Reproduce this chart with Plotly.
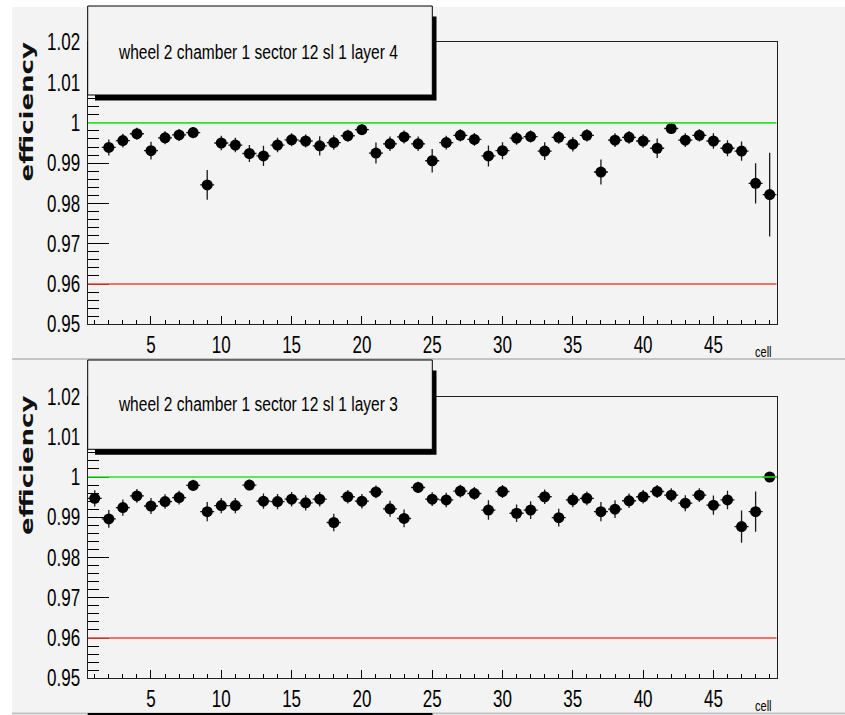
import plotly.graph_objects as go

# ---- data -------------------------------------------------------------
cells = list(range(1, 50))

# layer 4 (cell 1 has no entry in range)
eff_layer4 = [None,
              0.9939, 0.9956, 0.9973, 0.9931, 0.9963, 0.9970, 0.9976, 0.9846,
              0.9950, 0.9945, 0.9924, 0.9918, 0.9945, 0.9958, 0.9955, 0.9943,
              0.9951, 0.9968, 0.9983, 0.9925, 0.9948, 0.9965, 0.9948, 0.9906,
              0.9951, 0.9969, 0.9959, 0.9918, 0.9931, 0.9962, 0.9966, 0.9930,
              0.9964, 0.9947, 0.9969, 0.9878, 0.9957, 0.9964, 0.9955, 0.9937,
              0.9986, 0.9957, 0.9969, 0.9955, 0.9937, 0.9930, 0.9850, 0.9822]
err_layer4 = [None,
              0.0020, 0.0017, 0.0015, 0.0022, 0.0016, 0.0015, 0.0014, 0.0037,
              0.0018, 0.0018, 0.0021, 0.0025, 0.0018, 0.0016, 0.0016, 0.0024,
              0.0018, 0.0015, 0.0013, 0.0026, 0.0018, 0.0016, 0.0018, 0.0029,
              0.0017, 0.0015, 0.0016, 0.0026, 0.0021, 0.0016, 0.0015, 0.0022,
              0.0016, 0.0018, 0.0015, 0.0031, 0.0017, 0.0016, 0.0017, 0.0024,
              0.0013, 0.0017, 0.0015, 0.0019, 0.0020, 0.0024, 0.0050, 0.0104]

# layer 3
eff_layer3 = [0.9947, 0.9896, 0.9924, 0.9953, 0.9928, 0.9939, 0.9949, 0.9979,
              0.9914, 0.9929, 0.9929, 0.9980, 0.9940, 0.9939, 0.9945, 0.9936,
              0.9945, 0.9887, 0.9951, 0.9940, 0.9963, 0.9921, 0.9897, 0.9974,
              0.9945, 0.9943, 0.9965, 0.9959, 0.9918, 0.9964, 0.9910, 0.9918,
              0.9951, 0.9899, 0.9943, 0.9947, 0.9914, 0.9920, 0.9941, 0.9951,
              0.9964, 0.9955, 0.9935, 0.9955, 0.9930, 0.9943, 0.9877, 0.9914,
              1.0000]
err_layer3 = [0.0020, 0.0022, 0.0020, 0.0017, 0.0020, 0.0018, 0.0017, 0.0014,
              0.0024, 0.0019, 0.0019, 0.0013, 0.0019, 0.0019, 0.0018, 0.0019,
              0.0018, 0.0022, 0.0017, 0.0018, 0.0016, 0.0020, 0.0022, 0.0014,
              0.0017, 0.0018, 0.0016, 0.0016, 0.0024, 0.0016, 0.0022, 0.0022,
              0.0018, 0.0022, 0.0018, 0.0017, 0.0024, 0.0022, 0.0018, 0.0017,
              0.0016, 0.0017, 0.0020, 0.0017, 0.0024, 0.0023, 0.0040, 0.0050,
              0.0]

panel_titles = ["wheel 2 chamber 1 sector 12 sl 1 layer 4",
                "wheel 2 chamber 1 sector 12 sl 1 layer 3"]

y_tickvals = [0.95, 0.96, 0.97, 0.98, 0.99, 1.00, 1.01, 1.02]
y_ticktext = ["0.95", "0.96", "0.97", "0.98", "0.99", "1", "1.01", "1.02"]
x_tickvals = [5, 10, 15, 20, 25, 30, 35, 40, 45]
x_ticktext = ["5", "10", "15", "20", "25", "30", "35", "40", "45"]

upper_ref = 1.0   # green reference
lower_ref = 0.96  # red reference
x_range = [0.5, 49.5]
y_range = [0.95, 1.02]

# ---- page geometry (pixels) ------------------------------------------
W, H = 845, 715
def px(x):
    return x / W
def py(y):
    return 1 - y / H

PANEL_BG = "#f3f3f3"
SANS = "Liberation Sans, Arial, sans-serif"

panels = [
    dict(top=42.3, bottom=324.3, ytitle=111.5, box_top=6.0, box_bottom=95.0,
         text_y=51.7, eff=eff_layer4, err=err_layer4, title=panel_titles[0]),
    dict(top=396.5, bottom=678.3, ytitle=465.0, box_top=360.0, box_bottom=449.3,
         text_y=403.3, eff=eff_layer3, err=err_layer3, title=panel_titles[1]),
]
PLOT_L, PLOT_R = 87.7, 776.7

fig = go.Figure()
shapes = []
annotations = []

# canvas backgrounds
shapes.append(dict(type="rect", xref="paper", yref="paper", layer="below",
                   x0=px(12), x1=px(845), y0=py(7), y1=py(713),
                   fillcolor=PANEL_BG, line=dict(width=0)))
for yy in (359, 713.5):
    shapes.append(dict(type="line", xref="paper", yref="paper", layer="below",
                       x0=px(12), x1=px(845), y0=py(yy), y1=py(yy),
                       line=dict(color="#c4c4c4", width=2)))
# top edge of the next pad's label box
shapes.append(dict(type="line", xref="paper", yref="paper", layer="above",
                   x0=px(PLOT_L), x1=px(432.5), y0=py(714), y1=py(714),
                   line=dict(color="black", width=2)))

for i, p in enumerate(panels):
    n = "" if i == 0 else str(i + 1)
    xa, ya = "x" + n, "y" + n
    fig.add_trace(go.Scatter(
        x=cells, y=p["eff"], mode="markers", xaxis=xa, yaxis=ya,
        marker=dict(symbol="circle", size=11, color="black"),
        error_y=dict(type="data", array=p["err"], color="#1a1a1a",
                     thickness=1.3, width=0),
        error_x=dict(type="constant", value=0.5, color="#1a1a1a",
                     thickness=1.3, width=0),
        showlegend=False, hoverinfo="skip"))

    axis_common = dict(showline=True, linecolor="#202020", linewidth=1,
                       mirror=True, showgrid=False, zeroline=False,
                       ticks="inside", tickcolor="black", automargin=False)
    fig.update_layout({
        ("xaxis" + n): dict(
            axis_common, domain=[px(PLOT_L), px(PLOT_R)], range=x_range,
            anchor=ya, tickvals=x_tickvals, ticktext=x_ticktext, ticklen=8,
            tickwidth=1.2,
            tickfont=dict(family=SANS, size=23, color="black"),
            minor=dict(dtick=1, tick0=0, ticks="inside", ticklen=4,
                       tickcolor="black", tickwidth=1)),
        ("yaxis" + n): dict(
            axis_common, domain=[py(p["bottom"]), py(p["top"])], range=y_range,
            anchor=xa, tickvals=y_tickvals, ticktext=y_ticktext, ticklen=21,
            tickwidth=1.2,
            tickfont=dict(family=SANS, size=23, color="black"),
            ticklabelstandoff=2,
            minor=dict(dtick=0.002, tick0=0.95, ticks="inside", ticklen=11,
                       tickcolor="black", tickwidth=1)),
    })

    # reference levels
    shapes.append(dict(type="line", xref=xa, yref=ya, layer="above",
                       x0=x_range[0], x1=x_range[1], y0=upper_ref, y1=upper_ref,
                       line=dict(color="#28e628", width=1.6)))
    shapes.append(dict(type="line", xref=xa, yref=ya, layer="above",
                       x0=x_range[0], x1=x_range[1], y0=lower_ref, y1=lower_ref,
                       line=dict(color="#f24a36", width=1.6)))

    # label box with drop shadow
    shapes.append(dict(type="rect", xref="paper", yref="paper", layer="above",
                       x0=px(95), x1=px(436.5), y0=py(p["box_bottom"] + 5.5),
                       y1=py(p["box_top"] + 10.5),
                       fillcolor="black", line=dict(width=0)))
    shapes.append(dict(type="rect", xref="paper", yref="paper", layer="above",
                       x0=px(PLOT_L), x1=px(432.3), y0=py(p["box_bottom"]),
                       y1=py(p["box_top"]),
                       fillcolor=PANEL_BG, line=dict(color="black", width=1)))
    annotations.append(dict(xref="paper", yref="paper", x=px(258), y=py(p["text_y"]),
                            text=p["title"], showarrow=False,
                            xanchor="center", yanchor="middle",
                            font=dict(family=SANS, size=21, color="black")))
    annotations.append(dict(xref="paper", yref="paper", x=px(27), y=py(p["ytitle"]),
                            text="efficiency", showarrow=False, textangle=-90,
                            xanchor="center", yanchor="middle",
                            font=dict(family="DejaVu Sans, sans-serif", size=26,
                                      color="#111111", weight="bold")))
    annotations.append(dict(xref="paper", yref="paper", x=px(PLOT_R),
                            y=py(p["bottom"] + 27.5), text="cell", showarrow=False,
                            xanchor="right", yanchor="middle",
                            font=dict(family=SANS, size=15, color="black")))

fig.update_layout(width=W, height=H, autosize=False,
                  margin=dict(l=0, r=0, t=0, b=0, pad=0, autoexpand=False),
                  paper_bgcolor="white", plot_bgcolor=PANEL_BG,
                  shapes=shapes, annotations=annotations)

# Condensed text: horizontal labels are squeezed along x about their anchor,
# the rotated axis title is squeezed across its own baseline direction.
post_js = """
var squeeze = function (el, sx, sy) {
    var bb = el.getBBox();
    var anchor = el.getAttribute('text-anchor') || 'start';
    var ax = bb.x;
    if (anchor === 'middle') { ax = bb.x + bb.width / 2; }
    else if (anchor === 'end') { ax = bb.x + bb.width; }
    var ay = bb.y + bb.height / 2;
    var t = el.getAttribute('transform') || '';
    el.setAttribute('transform', t + ' translate(' + ax + ',' + ay + ') scale(' +
                    sx + ',' + sy + ') translate(' + (-ax) + ',' + (-ay) + ')');
};
document.querySelectorAll('g.xaxislayer-above text, g.yaxislayer-above text')
    .forEach(function (el) { squeeze(el, 0.74, 1); });
document.querySelectorAll('.annotation-text').forEach(function (el) {
    var txt = el.textContent;
    if (txt.indexOf('wheel') === 0 || txt === 'cell') { squeeze(el, 0.74, 1); }
    else if (txt === 'efficiency') { squeeze(el, 1, 0.68); }
});
"""

fig.write_html("out.html", post_script=post_js)
